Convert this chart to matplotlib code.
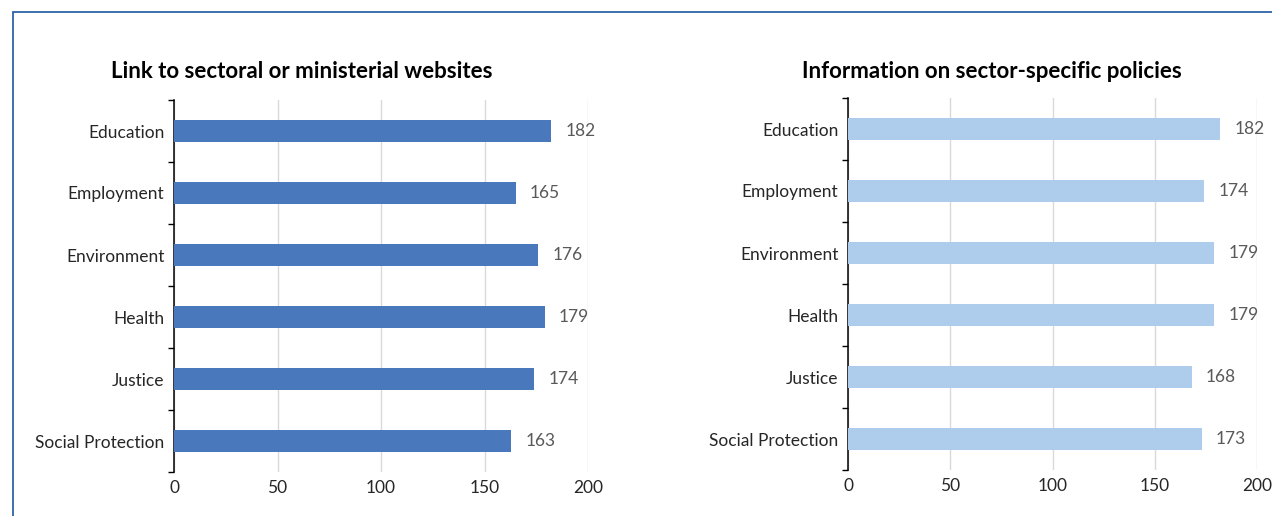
import matplotlib.pyplot as plt
from matplotlib.patches import Rectangle
import numpy as np

categories = ['Education', 'Employment', 'Environment', 'Health', 'Justice', 'Social Protection']
links_values = [182, 165, 176, 179, 174, 163]
policy_values = [182, 174, 179, 179, 168, 173]
x_ticks = [0, 50, 100, 150, 200]

left_title = 'Link to sectoral or ministerial websites'
right_title = 'Information on sector-specific policies'

plt.rcParams['font.family'] = ['Lato', 'DejaVu Sans']

fig = plt.figure(figsize=(12.72, 5.16), dpi=100)

# blue frame round the panel (left and top edges visible)
fig.patches.append(Rectangle((13 / 1272, -0.05), 1.1, 1 - 12 / 516 + 0.05,
                             transform=fig.transFigure, fill=False,
                             edgecolor='#2e64a6', linewidth=1.3))


def draw_panel(rect, values, color, title, title_x):
    ax = fig.add_axes(rect)
    y = np.arange(len(categories))
    ax.barh(y, values, height=0.37, color=color, zorder=3)
    ax.set_xlim(0, 200)
    ax.set_ylim(len(categories) - 0.5, -0.5)
    ax.set_xticks(x_ticks)
    ax.set_xticklabels([str(t) for t in x_ticks], fontsize=12.5, color='#262626')
    ax.set_yticks(y)
    ax.set_yticklabels(categories, fontsize=12.5, color='#262626')
    ax.set_yticks(np.arange(-0.5, len(categories)), minor=True)
    ax.tick_params(axis='y', which='major', length=0, pad=7)
    ax.tick_params(axis='y', which='minor', length=4, color='black', width=1)
    ax.tick_params(axis='x', length=0, pad=6)
    for s in ['top', 'right', 'bottom']:
        ax.spines[s].set_visible(False)
    ax.spines['left'].set_color('black')
    ax.spines['left'].set_linewidth(1.1)
    ax.grid(axis='x', color='#d9d9d9', linewidth=1, zorder=0)
    for yi, v in zip(y, values):
        ax.text(v + 7, yi, str(v), va='center', ha='left',
                fontsize=12.5, color='#595959')
    fig.text(title_x, 1 - 72 / 516, title, ha='center', va='center',
             fontsize=16, fontweight='bold', color='black')
    return ax


draw_panel([174 / 1272, 1 - 472 / 516, 414 / 1272, 372 / 516],
           links_values, '#4a78bd', left_title, 302 / 1272)
draw_panel([848 / 1272, 1 - 470 / 516, 409 / 1272, 372 / 516],
           policy_values, '#aecdec', right_title, 992 / 1272)

fig.savefig('out.png', dpi=100)
